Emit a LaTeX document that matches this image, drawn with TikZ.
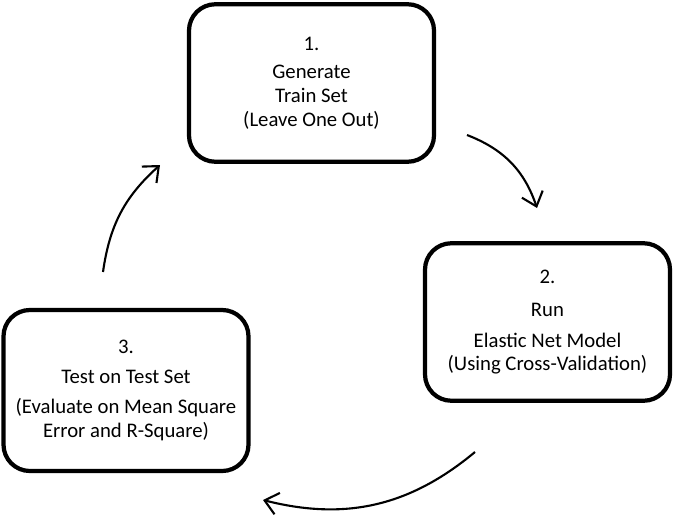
\documentclass[tikz,border=0pt]{standalone}
\usepackage{fontspec}
\setmainfont{Carlito}
\usetikzlibrary{arrows.meta,positioning}

\begin{document}
\begin{tikzpicture}[
      stepbox/.style={draw, line width=2.4pt, rounded corners=15pt, minimum width=4.9cm, minimum height=3.15cm, align=center, font=\fontsize{11.8}{13.5}\selectfont},
      arrowstyle/.style={-{Straight Barb[length=2.6mm,width=4.4mm,line width=1.2pt]}, line width=1.2pt}
    ]
    \useasboundingbox (0,0) rectangle (13.52,10.3);
    \node[stepbox] (train) at (6.23,8.64) {1.\\[2.5pt]Generate\\Train Set\\(Leave One Out)};
    \node[stepbox] (model) at (10.95,3.86) {2.\\[5.5pt]Run\\[4pt]Elastic Net Model\\(Using Cross-Validation)};
    \node[stepbox, minimum height=3.22cm] (test) at (2.52,2.49) {3.\\[3.5pt]Test on Test Set\\[3.5pt](Evaluate on Mean Square\\Error and R-Square)};

    % free ends of the curved arrows
    \coordinate (train-out) at (9.34,7.60);
    \coordinate (model-in) at (10.74,6.14);
    \coordinate (model-out) at (9.50,1.26);
    \coordinate (test-in) at (5.26,0.30);
    \coordinate (test-out) at (2.06,4.86);
    \coordinate (train-in) at (3.20,7.00);

    \draw[arrowstyle] (train-out) to[bend left=25] (model-in);
    \draw[arrowstyle] (model-out) to[bend left=27] (test-in);
    \draw[arrowstyle] (test-out) to[bend left=20] (train-in);
  \end{tikzpicture}
\end{document}
